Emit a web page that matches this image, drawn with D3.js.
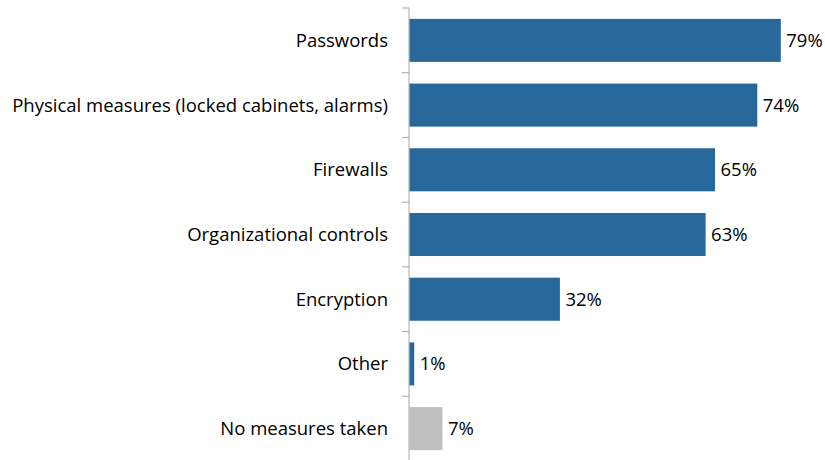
<!DOCTYPE html>
<html>
<head>
<meta charset="utf-8">
<script src="https://cdn.jsdelivr.net/npm/d3@7"></script>
<style>
  html, body { margin: 0; padding: 0; background: #ffffff; }
  svg { display: block; }
  text { font-family: "Open Sans", Lato, sans-serif; fill: #000; }
</style>
</head>
<body>
<svg id="chart" width="825" height="460"></svg>
<script>
// Security measures taken, share of respondents (%)
const categories = [
  "Passwords",
  "Physical measures (locked cabinets, alarms)",
  "Firewalls",
  "Organizational controls",
  "Encryption",
  "Other",
  "No measures taken"
];
const values = [79, 74, 65, 63, 32, 1, 7];
const barColors = ["#28679a", "#28679a", "#28679a", "#28679a", "#28679a", "#28679a", "#bfbfbf"];

const svg = d3.select("#chart");
const x0 = 409;

const x = d3.scaleLinear().domain([0, 80]).range([x0, x0 + 80 * 4.70]);
const y = d3.scaleBand()
  .domain(categories)
  .range([8, 461])
  .paddingInner(0.335)
  .paddingOuter(0.168);

// category axis with tick marks between bands
const tickPos = d3.range(categories.length + 1).map(i => 8 + i * (453 / categories.length));
svg.append("line")
  .attr("x1", x0).attr("x2", x0)
  .attr("y1", 8).attr("y2", 461)
  .attr("stroke", "#a6a6a6").attr("stroke-width", 1);
svg.selectAll("line.tick").data(tickPos).join("line")
  .attr("class", "tick")
  .attr("x1", x0 - 7).attr("x2", x0)
  .attr("y1", d => d).attr("y2", d => d)
  .attr("stroke", "#a6a6a6").attr("stroke-width", 1);

const rows = categories.map((c, i) => ({ c, v: values[i], color: barColors[i] }));

svg.selectAll("rect.bar").data(rows).join("rect")
  .attr("class", "bar")
  .attr("x", x0 + 0.5)
  .attr("y", d => y(d.c))
  .attr("width", d => x(d.v) - x0)
  .attr("height", y.bandwidth())
  .attr("fill", d => d.color);

svg.selectAll("text.cat").data(rows).join("text")
  .attr("class", "cat")
  .attr("x", 388)
  .attr("y", d => y(d.c) + y.bandwidth() / 2)
  .attr("dy", "0.35em")
  .attr("text-anchor", "end")
  .attr("font-size", 18.5)
  .text(d => d.c);

svg.selectAll("text.val").data(rows).join("text")
  .attr("class", "val")
  .attr("x", d => x(d.v) + 6)
  .attr("y", d => y(d.c) + y.bandwidth() / 2)
  .attr("dy", "0.35em")
  .attr("font-size", 18.5)
  .text(d => d.v + "%");
</script>
</body>
</html>
